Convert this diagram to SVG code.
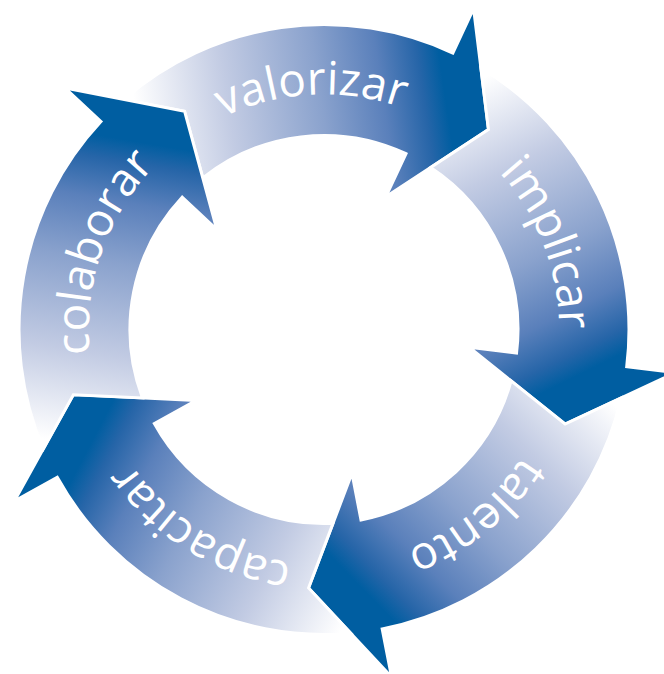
<svg xmlns="http://www.w3.org/2000/svg" width="664" height="674" viewBox="0 0 664 674">
<style>
.arrow{fill:url(#g);stroke:#ffffff;stroke-width:3;stroke-linejoin:miter}
.lbl{font-family:"Open Sans","Noto Sans",sans-serif;font-size:46px;fill:#ffffff}
</style>
<defs>
<linearGradient id="g" gradientUnits="userSpaceOnUse" x1="140" y1="140" x2="445" y2="95">
<stop offset="0" stop-color="#ffffff"/>
<stop offset="0.3" stop-color="#c2cbe3"/>
<stop offset="0.6" stop-color="#8aa2cd"/>
<stop offset="0.8" stop-color="#5a80bb"/>
<stop offset="0.93" stop-color="#2665a8"/>
<stop offset="1" stop-color="#005ea1"/>
</linearGradient>
<path id="shape" d="M123.7,99.5 A305,305 0 0 1 452.9,53.1 L473.6,8.7 L488.5,129.5 L385.9,196.7 L406,153.7 A194,194 0 0 0 202.8,178 L184.5,111.3 Z"/>
<path id="tp" d="M89.1,321.3 A235,235 0 0 1 556.7,296.8"/>
</defs>
<g id="connectors"></g>
<g id="valorizar">
<use href="#shape" class="arrow"/>
<text class="lbl"><textPath href="#tp" startOffset="50%" text-anchor="middle">valorizar</textPath></text>
</g>
<g id="implicar" transform="rotate(72 324 329.5)">
<use href="#shape" class="arrow"/>
<text class="lbl"><textPath href="#tp" startOffset="50%" text-anchor="middle">implicar</textPath></text>
</g>
<g id="talento" transform="rotate(144 324 329.5)">
<use href="#shape" class="arrow"/>
<text class="lbl"><textPath href="#tp" startOffset="50%" text-anchor="middle">talento</textPath></text>
</g>
<g id="capacitar" transform="rotate(216 324 329.5)">
<use href="#shape" class="arrow"/>
<text class="lbl"><textPath href="#tp" startOffset="49.3%" text-anchor="middle">capacitar</textPath></text>
</g>
<g id="colaborar" transform="rotate(288 324 329.5)">
<use href="#shape" class="arrow"/>
<text class="lbl"><textPath href="#tp" startOffset="52.4%" text-anchor="middle">colaborar</textPath></text>
</g>
</svg>
